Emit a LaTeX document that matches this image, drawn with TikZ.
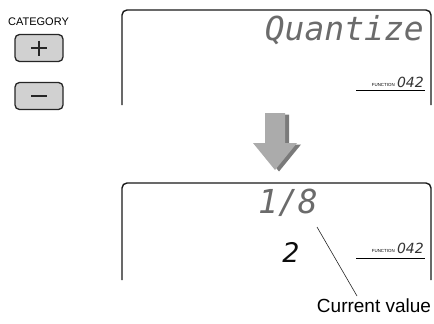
\documentclass[tikz,border=0pt]{standalone}
\usepackage{fontspec}
\setmainfont{Liberation Sans}
\newfontfamily\lcdfont{DejaVu Sans Mono}
\newfontfamily\segfont{DejaVu Sans}
\usetikzlibrary{positioning,calc}

\begin{document}
\begin{tikzpicture}[
  x=1pt, y=-1pt,
  font=\fontsize{11}{12}\selectfont,
  btn/.style={draw=black!85, line width=1.3pt, rounded corners=4.5pt, fill=black!18,
              minimum width=48pt, minimum height=27pt, inner sep=0pt},
  sign/.style={line width=2.8pt, black!85},
  lcd/.style={draw=black!90, line width=1.4pt, rounded corners=5pt},
  dots/.style={font=\lcdfont\itshape\fontsize{33}{33}\selectfont, text=black!58, inner sep=0pt},
  segs/.style={font=\segfont\itshape\fontsize{27}{27}\selectfont, text=black!95, inner sep=0pt},
  fnlbl/.style={font=\fontsize{4.4}{5}\selectfont, inner sep=0pt},
  fnnum/.style={font=\segfont\itshape\fontsize{14}{14}\selectfont, text=black!80, inner sep=0pt},
  lead/.style={black!85, line width=0.6pt},
]
\useasboundingbox (0,0) rectangle (434,324);
\def\xL{122}\def\xR{431}

% ---- category buttons ------------------------------------------------------
\node (cat) at (38.5,22) {CATEGORY};
\node[btn] (plus)  at (39,48) {};
\node[btn] (minus) at (39,96) {};
\draw[sign] ($(plus.center)+(-8,0)$) -- ($(plus.center)+(8,0)$);
\draw[sign] ($(plus.center)+(0,-7.5)$) -- ($(plus.center)+(0,7.5)$);
\draw[sign] ($(minus.center)+(-8,0)$) -- ($(minus.center)+(8,0)$);

% ---- upper display -----------------------------------------------------------
\draw[lcd] (\xL,105) -- (\xL,10) -- (\xR,10) -- (\xR,105);
\node[dots, anchor=base east] (fname) at (424,40) {Quantize};
\node[fnnum, anchor=base east] (fnum1) at (424,87) {042};
\node[fnlbl, left=2pt of fnum1.west, yshift=-3.5pt] (flbl1) {FUNCTION};
\draw[line width=0.8pt] (356,90) -- (425,90);

% ---- block arrow -------------------------------------------------------------
\begin{scope}[shift={(4,1.5)}]
  \fill[black!52] (265,113) -- (285,113) -- (285,143) -- (297,143) -- (275,170)
    -- (253,143) -- (265,143) -- cycle;
\end{scope}
\fill[black!33] (265,113) -- (285,113) -- (285,143) -- (297,143) -- (275,170)
  -- (253,143) -- (265,143) -- cycle;

% ---- lower display -----------------------------------------------------------
\draw[lcd] (\xL,280) -- (\xL,183) -- (\xR,183) -- (\xR,280);
\node[dots] (value) at (288,203) {1/8};
\node[segs] (digit) at (291,252) {2};
\node[fnnum, anchor=base east] (fnum2) at (424,253) {042};
\node[fnlbl, left=2pt of fnum2.west, yshift=-3.5pt] (flbl2) {FUNCTION};
\draw[line width=0.8pt] (356,258) -- (425,258);

% ---- callout -----------------------------------------------------------------
\coordinate (ptr) at (317,227);
\node[font=\fontsize{19}{20}\selectfont, anchor=north, inner sep=0pt] (cur) at (374,299) {Current value};
\draw[lead] (ptr) -- ([xshift=-17pt,yshift=3pt]cur.north);
\end{tikzpicture}
\end{document}
